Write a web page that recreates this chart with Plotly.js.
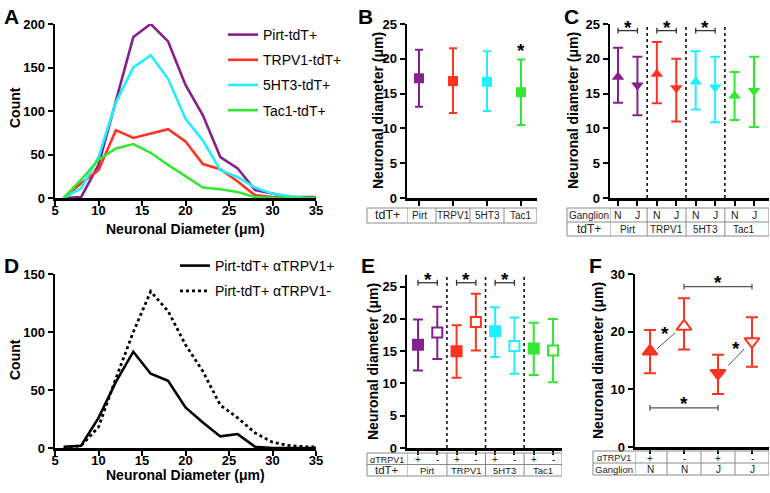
<!DOCTYPE html>
<html><head><meta charset="utf-8">
<script src="https://cdn.plot.ly/plotly-3.0.1.min.js"></script>
<style>html,body{margin:0;padding:0;background:#fff}#chart{width:770px;height:493px}</style>
</head><body><div id="chart"></div>
<script>
// ---------- data ----------
const diameter   = [6,8,10,12,14,16,18,20,22,24,26,28,30,32,34,36];
const countPirt  = [0,1,38,112,185,200,180,130,95,47,34,9,5,1,1,1];
const countTRPV1 = [0,17,32,78,69,74,79,65,39,33,19,3,1,0,0,0];
const count5HT3  = [0,11,47,110,150,164,137,91,66,32,24,12,5,2,0,0];
const countTac1  = [0,21,44,57,62,52,38,25,12,10,7,1,0,0,0,0];
const countPos   = [1,2,26,57,83,64,58,35,22,10,12,1,0,0,0,0];
const countNeg   = [0,2,18,60,100,135,118,89,66,37,26,13,5,2,1,1];
const seriesA = ['Pirt-tdT+','TRPV1-tdT+','5HT3-tdT+','Tac1-tdT+'];
const seriesD = ['Pirt-tdT+ \u03b1TRPV1+','Pirt-tdT+ \u03b1TRPV1-'];

const groups = ['Pirt','TRPV1','5HT3','Tac1'];
const bMean  = [17.2,16.8,16.7,15.2];
const bUpper = [21.3,21.5,21.1,19.9];
const bLower = [13.1,12.2,12.5,10.5];

const cGanglion = ['N','J','N','J','N','J','N','J'];
const cMean  = [17.4,16.2,17.8,15.8,16.7,15.9,14.7,15.4];
const cUpper = [21.6,20.3,22.4,20.0,21.1,20.3,18.1,20.3];
const cLower = [13.7,11.9,13.6,11.0,12.7,10.9,11.2,10.2];

const eTRPV1 = ['+','-','+','-','+','-','+','-'];
const eMean  = [16.0,17.9,15.0,19.5,18.1,15.8,15.4,15.1];
const eUpper = [19.9,21.9,19.0,23.9,21.8,20.2,19.4,20.0];
const eLower = [12.0,13.8,10.9,15.1,14.1,11.5,11.3,10.2];

const fTRPV1    = ['+','-','+','-'];
const fGanglion = ['N','N','J','J'];
const fMean  = [16.6,20.9,12.8,18.3];
const fUpper = [20.3,25.8,16.0,22.5];
const fLower = [12.8,16.9,9.2,13.9];

// ---------- styling ----------
const colors = ['#87208F','#FF3322','#22EEFF','#33E833'];
const W = 770, H = 493;
const FONT = 'Liberation Sans, Arial, Helvetica, sans-serif';
const px = x => x / W;
const py = y => 1 - y / H;
const domX = (a, b) => [a / W, b / W];
const domY = (top, bot) => [1 - bot / H, 1 - top / H];

function ax(extra) {
  return Object.assign({
    showline: true, linecolor: '#000', linewidth: 2.5,
    ticks: 'outside', ticklen: 5, tickwidth: 2, tickcolor: '#000',
    showgrid: false, zeroline: false, fixedrange: true, automargin: false,
    tickfont: {family: FONT, size: 13, color: '#000', weight: 'bold'}
  }, extra);
}
const idx = n => Array.from({length: n}, (_, i) => i);
const diff = (a, b) => a.map((v, i) => v - b[i]);

const traces = [];
// A
[countPirt, countTRPV1, count5HT3, countTac1].forEach((c, i) => traces.push({
  x: diameter, y: c, type: 'scatter', mode: 'lines', name: seriesA[i],
  line: {color: colors[i], width: 2.6}, xaxis: 'x', yaxis: 'y',
  legend: 'legend', legendgroup: 'a' + i
}));
// D
traces.push({x: diameter, y: countPos, type: 'scatter', mode: 'lines', name: seriesD[0],
  line: {color: '#000', width: 2.6}, xaxis: 'x4', yaxis: 'y4', legend: 'legend2', legendgroup: 'd0'});
traces.push({x: diameter, y: countNeg, type: 'scatter', mode: 'lines', name: seriesD[1],
  line: {color: '#000', width: 2.8, dash: 'dot'}, xaxis: 'x4', yaxis: 'y4', legend: 'legend2', legendgroup: 'd1'});
// B
groups.forEach((g, i) => traces.push({
  x: [i], y: [bMean[i]], type: 'scatter', mode: 'markers', showlegend: false,
  xaxis: 'x2', yaxis: 'y2',
  marker: {symbol: 'square', size: 10, color: colors[i]},
  error_y: {type: 'data', symmetric: false, array: [bUpper[i] - bMean[i]], arrayminus: [bMean[i] - bLower[i]],
    color: colors[i], thickness: 2, width: 4}
}));
// C
groups.forEach((g, gi) => {
  const ii = [2 * gi, 2 * gi + 1];
  traces.push({
    x: ii, y: ii.map(k => cMean[k]), type: 'scatter', mode: 'markers', showlegend: false,
    xaxis: 'x3', yaxis: 'y3',
    marker: {symbol: ii.map(k => cGanglion[k] === 'N' ? 'triangle-up' : 'triangle-down'), size: 11, color: colors[gi]},
    error_y: {type: 'data', symmetric: false, array: ii.map(k => cUpper[k] - cMean[k]),
      arrayminus: ii.map(k => cMean[k] - cLower[k]), color: colors[gi], thickness: 2, width: 5}
  });
});
// E
groups.forEach((g, gi) => {
  const ii = [2 * gi, 2 * gi + 1];
  traces.push({
    x: ii, y: ii.map(k => eMean[k]), type: 'scatter', mode: 'markers', showlegend: false,
    xaxis: 'x5', yaxis: 'y5',
    marker: {symbol: 'square', size: 10, color: ii.map(k => eTRPV1[k] === '+' ? colors[gi] : '#fff'),
      line: {color: colors[gi], width: 2}},
    error_y: {type: 'data', symmetric: false, array: ii.map(k => eUpper[k] - eMean[k]),
      arrayminus: ii.map(k => eMean[k] - eLower[k]), color: colors[gi], thickness: 2, width: 5}
  });
});
// F
traces.push({
  x: idx(4), y: fMean, type: 'scatter', mode: 'markers', showlegend: false,
  xaxis: 'x6', yaxis: 'y6',
  marker: {symbol: fGanglion.map(g => g === 'N' ? 'triangle-up' : 'triangle-down'), size: 13,
    color: fTRPV1.map(t => t === '+' ? colors[1] : '#fff'), line: {color: colors[1], width: 2}},
  error_y: {type: 'data', symmetric: false, array: diff(fUpper, fMean), arrayminus: diff(fMean, fLower),
    color: colors[1], thickness: 2, width: 6}
});

// ---------- axes ----------
function catRange(leftPx, rightPx, c0, step) { return [(leftPx - c0) / step, (rightPx - c0) / step]; }
const rB = catRange(407, 537, 419, 34);
const rC = catRange(610, 769, 618, 19.43);
const rE = catRange(407, 562, 418, 19.29);
const rF = catRange(635, 769, 650, 34);

const layout = {
  width: W, height: H, margin: {l: 0, r: 0, t: 0, b: 0},
  paper_bgcolor: '#fff', plot_bgcolor: 'rgba(0,0,0,0)', showlegend: true,
  font: {family: FONT, color: '#000'},
  xaxis: ax({domain: domX(55, 316), range: [5, 35], tickvals: [5,10,15,20,25,30,35], anchor: 'y', ticklabelstandoff: -6}),
  yaxis: ax({domain: domY(24, 198), range: [0, 200], tickvals: [0,50,100,150,200], anchor: 'x'}),
  xaxis2: ax({domain: domX(407, 537), range: rB, tickvals: idx(4), showticklabels: false, anchor: 'y2'}),
  yaxis2: ax({domain: domY(24, 198), range: [0, 25], tickvals: [0,5,10,15,20,25], anchor: 'x2'}),
  xaxis3: ax({domain: domX(610, 769), range: rC, tickvals: idx(8), showticklabels: false, anchor: 'y3'}),
  yaxis3: ax({domain: domY(24, 198), range: [0, 25], tickvals: [0,5,10,15,20,25], anchor: 'x3'}),
  xaxis4: ax({domain: domX(55, 316), range: [5, 35], tickvals: [5,10,15,20,25,30,35], anchor: 'y4', ticklabelstandoff: -6}),
  yaxis4: ax({domain: domY(274, 448), range: [0, 150], tickvals: [0,50,100,150], anchor: 'x4'}),
  xaxis5: ax({domain: domX(407, 562), range: rE, tickvals: idx(8), showticklabels: false, anchor: 'y5', ticklen: 4}),
  yaxis5: ax({domain: domY(275, 448), range: [0, 26.8], tickvals: [0,5,10,15,20,25], anchor: 'x5'}),
  xaxis6: ax({domain: domX(635, 769), range: rF, tickvals: idx(4), showticklabels: false, anchor: 'y6', ticklen: 4}),
  yaxis6: ax({domain: domY(274, 447), range: [0, 30], tickvals: [0,10,20,30], anchor: 'x6'}),
  legend: {x: px(223), y: py(19), xanchor: 'left', yanchor: 'top', bgcolor: 'rgba(0,0,0,0)',
    font: {family: FONT, size: 14, color: '#000'}, tracegroupgap: 4},
  legend2: {x: px(175), y: py(250), xanchor: 'left', yanchor: 'top', bgcolor: 'rgba(0,0,0,0)',
    font: {family: FONT, size: 14, color: '#000'}, tracegroupgap: 4},
  shapes: [], annotations: []
};

const S = layout.shapes, A = layout.annotations;
const GRAY = '#8a8a8a';
function line(xref, yref, x0, y0, x1, y1, color, width, dash) {
  S.push({type: 'line', xref: xref, yref: yref, x0: x0, y0: y0, x1: x1, y1: y1,
    line: {color: color, width: width, dash: dash || 'solid'}});
}
function text(xref, yref, x, y, t, size, opts) {
  A.push(Object.assign({xref: xref, yref: yref, x: x, y: y, text: t, showarrow: false,
    font: {family: FONT, size: size, color: '#222'}, xanchor: 'center', yanchor: 'middle'}, opts || {}));
}
function star(xref, yref, x, y) {
  A.push({xref: xref, yref: yref, x: x, y: y, text: '*', showarrow: false,
    font: {family: FONT, size: 19, color: '#000', weight: 'bold'}, xanchor: 'center', yanchor: 'middle'});
}
function title(t, xPx, yPx, angle) {
  A.push({xref: 'paper', yref: 'paper', x: px(xPx), y: py(yPx), text: t, showarrow: false, textangle: angle || 0,
    xanchor: 'center', yanchor: 'middle', font: {family: FONT, size: 14, color: '#000', weight: 'bold'}});
}

// axis titles
title('Neuronal Diameter (\u03bcm)', 185, 229);
title('Neuronal Diameter (\u03bcm)', 185, 475);
title('Count', 15, 108, -90);
title('Count', 15, 360, -90);
title('Neuronal diameter (\u03bcm)', 378, 111, -90);
title('Neuronal diameter (\u03bcm)', 573, 111, -90);
title('Neuronal diameter (\u03bcm)', 373, 362, -90);
title('Neuronal diameter (\u03bcm)', 598, 361, -90);

// panel letters
[['A', 2, 3], ['B', 356, 3], ['C', 562, 3], ['D', 2, 252], ['E', 359, 252], ['F', 587, 252]].forEach(p =>
  A.push({xref: 'paper', yref: 'paper', x: px(p[1]), y: py(p[2]), text: p[0], showarrow: false,
    xanchor: 'left', yanchor: 'top', font: {family: FONT, size: 21, color: '#000', weight: 'bold'}}));

// tables
function table(xa, leftPx, axisPx, range, topPx, rowH, rows) {
  const n = rows.length;
  for (let r = 0; r <= n; r++) {
    const yy = py(topPx + r * rowH);
    line('paper', 'paper', px(leftPx), yy, px(axisPx), yy, GRAY, 1);
    line(xa, 'paper', range[0], yy, range[1], yy, GRAY, 1);
  }
  line('paper', 'paper', px(leftPx), py(topPx), px(leftPx), py(topPx + n * rowH), GRAY, 1);
  rows.forEach((row, r) => {
    const y0 = py(topPx + r * rowH), y1 = py(topPx + (r + 1) * rowH);
    const ym = (y0 + y1) / 2 - (row.shift || 0) / H;
    [range[0]].concat(row.bounds).concat([range[1]]).forEach(b => line(xa, 'paper', b, y0, b, y1, GRAY, 1));
    text('paper', 'paper', px((leftPx + axisPx) / 2), ym, row.label, row.labelSize);
    row.cells.forEach(c => text(xa, 'paper', c.x, ym, c.text, row.cellSize));
  });
}
table('x2', 367, 407, rB, 208, 15, [{label: 'tdT+', labelSize: 12.5, cellSize: 10,
  bounds: [0.5, 1.5, 2.5], cells: groups.map((g, i) => ({text: g, x: i}))}]);
table('x3', 567, 610, rC, 208, 14, [
  {label: 'Ganglion', labelSize: 10, cellSize: 10.5, bounds: [1.5, 3.5, 5.5], cells: cGanglion.map((g, i) => ({text: g, x: i}))},
  {label: 'tdT+', labelSize: 12, cellSize: 10, bounds: [1.5, 3.5, 5.5], cells: groups.map((g, i) => ({text: g, x: 2 * i + 0.5}))}]);
table('x5', 367, 407, rE, 453, 11.5, [
  {label: '\u03b1TRPV1', labelSize: 9, cellSize: 10, shift: 1, bounds: [1.5, 3.5, 5.5], cells: eTRPV1.map((g, i) => ({text: g, x: i}))},
  {label: 'tdT+', labelSize: 11.5, cellSize: 9.5, bounds: [1.5, 3.5, 5.5], cells: groups.map((g, i) => ({text: g, x: 2 * i + 0.5}))}]);
table('x6', 593, 635, rF, 451, 12, [
  {label: '\u03b1TRPV1', labelSize: 9, cellSize: 10, shift: 1, bounds: [0.5, 1.5, 2.5], cells: fTRPV1.map((g, i) => ({text: g, x: i}))},
  {label: 'Ganglion', labelSize: 9.5, cellSize: 10, bounds: [0.5, 1.5, 2.5], cells: fGanglion.map((g, i) => ({text: g, x: i}))}]);

// dotted separators
[1.5, 3.5, 5.5].forEach(b => {
  line('x3', 'y3', b, 0, b, 25, '#000', 1.5, 'dot');
  line('x5', 'y5', b, 0, b, 26.8, '#000', 1.5, 'dot');
});
// brackets and significance
function bracket(xa, ya, x0, x1, y, tick, color, w) {
  line(xa, ya, x0, y, x1, y, color, w);
  line(xa, ya, x0, y - tick, x0, y + tick, color, w);
  line(xa, ya, x1, y - tick, x1, y + tick, color, w);
}
[0, 2, 4].forEach(k => {
  bracket('x3', 'y3', k, k + 1, 24.05, 0.4, '#333', 1.3);
  star('x3', 'y3', k + 0.5, 24.5);
  bracket('x5', 'y5', k, k + 1, 25.6, 0.45, '#333', 1.3);
  star('x5', 'y5', k + 0.5, 26.1);
});
star('x2', 'y2', 3, 21.2);
bracket('x6', 'y6', 1, 3, 27.8, 0.5, '#555', 1.3);
star('x6', 'y6', 2, 28.6);
bracket('x6', 'y6', 0, 2, 6.8, 0.5, '#555', 1.3);
star('x6', 'y6', 1, 7.6);
line('x6', 'y6', 0.2, 17.0, 0.74, 19.8, '#555', 1);
star('x6', 'y6', 0.44, 19.6);
line('x6', 'y6', 2.3, 14.1, 2.77, 17.0, '#555', 1);
star('x6', 'y6', 2.52, 17.0);

Plotly.newPlot('chart', traces, layout, {staticPlot: true, displayModeBar: false});
</script></body></html>
